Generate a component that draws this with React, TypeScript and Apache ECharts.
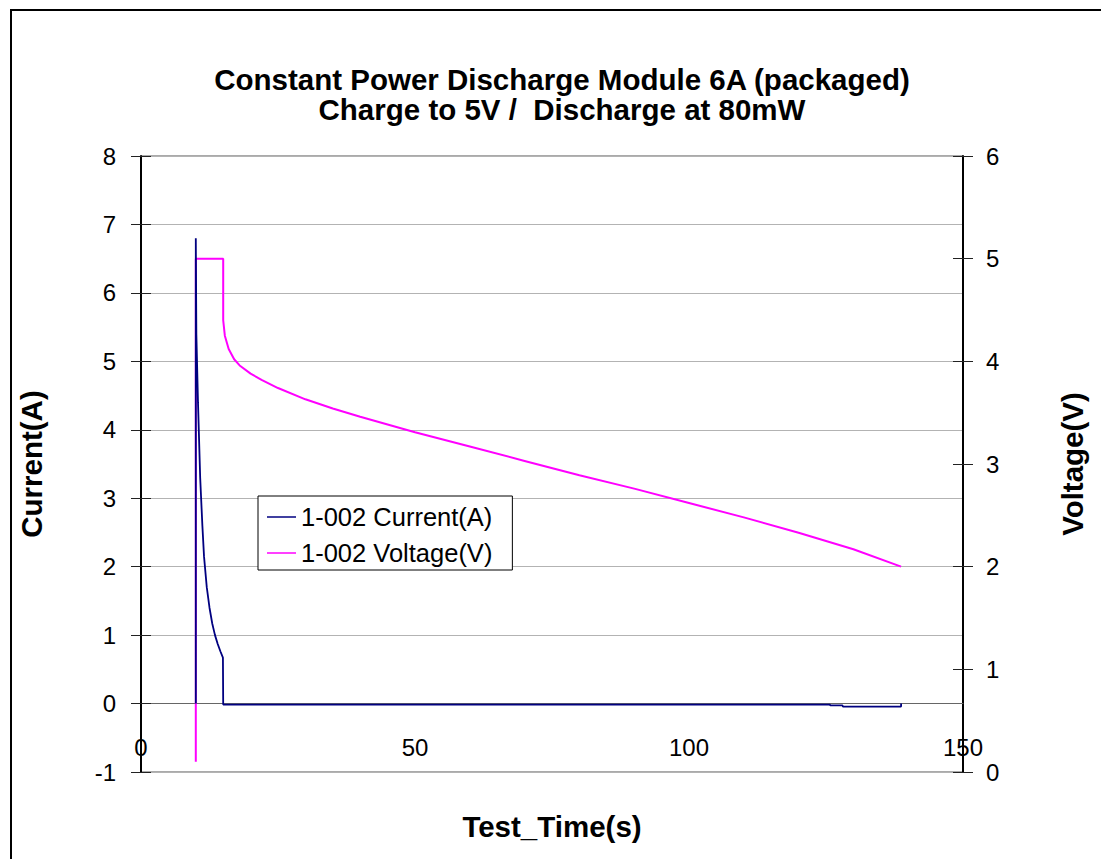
import React, { useEffect, useRef } from "react";
import * as echarts from "echarts";

const titleText = "Constant Power Discharge Module 6A (packaged)\nCharge to 5V /  Discharge at 80mW";
const xAxisName = "Test_Time(s)";
const leftAxisName = "Current(A)";
const rightAxisName = "Voltage(V)";
const currentName = "1-002 Current(A)";
const voltageName = "1-002 Voltage(V)";

const currentTime = [10, 10, 10.1, 10.4, 10.8, 11.2, 11.5, 12.0, 12.5, 13.0, 13.5, 14.0, 14.5, 14.95, 15.0, 60, 125.7, 125.8, 128.0, 128.1, 138.7, 138.7];
const currentValues = [0, 6.8, 5.4, 4.4, 3.3, 2.6, 2.15, 1.7, 1.4, 1.17, 1.0, 0.87, 0.76, 0.67, -0.015, -0.015, -0.015, -0.028, -0.028, -0.044, -0.044, 0];

const voltageTime = [10, 10, 15, 15, 15.3, 16, 17, 18, 20, 22, 25, 30, 35, 40, 50, 60, 70, 80, 90, 100, 110, 120, 130, 138.7];
const voltageValues = [0.1, 5.0, 5.0, 4.4, 4.25, 4.12, 4.02, 3.96, 3.88, 3.82, 3.74, 3.63, 3.54, 3.46, 3.31, 3.17, 3.03, 2.89, 2.76, 2.62, 2.48, 2.33, 2.17, 2.0];

const FONT = "Liberation Sans";

export default function App() {
  const ref = useRef<HTMLDivElement>(null);
  useEffect(() => {
    const chart = echarts.init(ref.current!, null, { renderer: "svg" });
    const currentData = currentTime.map((t, i) => [t, currentValues[i]]);
    const voltageData = voltageTime.map((t, i) => [t, voltageValues[i]]);
    const tickStyle = { color: "#222", width: 1 };
    const nameStyle = { fontFamily: FONT, fontSize: 29.5, fontWeight: "bold", color: "#000" };
    chart.setOption({
      animation: false,
      backgroundColor: "#fff",
      textStyle: { fontFamily: FONT },
      title: {
        text: titleText,
        left: 557,
        top: 59,
        textAlign: "center",
        textStyle: { fontFamily: FONT, fontSize: 29.5, fontWeight: "bold", color: "#000", lineHeight: 30 },
      },
      graphic: [
        {
          type: "rect",
          shape: { x: 11, y: 10, width: 1200, height: 1000 },
          style: { fill: "none", stroke: "#000", lineWidth: 2 },
          silent: true,
        },
      ],
      legend: {
        orient: "vertical",
        left: 258,
        top: 496,
        padding: [8, 20, 4, 9],
        itemGap: 10,
        itemWidth: 29,
        itemHeight: 1.5,
        icon: "rect",
        backgroundColor: "#fff",
        borderColor: "#000",
        borderWidth: 1,
        textStyle: { fontFamily: FONT, fontSize: 25.5, color: "#000", lineHeight: 25 },
        data: [currentName, voltageName],
      },
      grid: {
        left: 141,
        right: 138,
        top: 156,
        bottom: 87,
        outerBoundsMode: "none",
        containLabel: false,
        show: true,
        borderColor: "#555",
        borderWidth: 1,
        backgroundColor: "#fff",
      },
      xAxis: {
        type: "value",
        min: 0,
        max: 150,
        interval: 50,
        name: xAxisName,
        nameLocation: "middle",
        nameGap: 39,
        nameTextStyle: nameStyle,
        axisLine: { show: true, onZero: true, lineStyle: { color: "#666", width: 1 } },
        axisTick: { show: false },
        axisLabel: { fontFamily: FONT, fontSize: 24, color: "#000", margin: -37 },
        splitLine: { show: false },
      },
      yAxis: [
        {
          type: "value",
          position: "left",
          min: -1,
          max: 8,
          interval: 1,
          name: leftAxisName,
          nameLocation: "middle",
          nameGap: 95,
          nameRotate: 90,
          nameTextStyle: nameStyle,
          axisLine: { show: true, onZero: false, lineStyle: { color: "#000", width: 2 } },
          axisTick: { show: true, length: 10, lineStyle: tickStyle },
          axisLabel: { fontFamily: FONT, fontSize: 24, color: "#000", margin: 25 },
          splitLine: { show: true, lineStyle: { color: "#b3b3b3", width: 1 } },
        },
        {
          type: "value",
          position: "right",
          min: 0,
          max: 6,
          interval: 1,
          name: rightAxisName,
          nameLocation: "middle",
          nameGap: 94,
          nameRotate: 90,
          nameTextStyle: nameStyle,
          axisLine: { show: true, onZero: false, lineStyle: { color: "#000", width: 2 } },
          axisTick: { show: true, length: 10, lineStyle: tickStyle },
          axisLabel: { fontFamily: FONT, fontSize: 24, color: "#000", margin: 23 },
          splitLine: { show: false },
        },
        {
          type: "value",
          position: "left",
          min: -1,
          max: 8,
          interval: 1,
          axisLine: { show: false, onZero: false },
          axisTick: { show: true, inside: true, length: 10, lineStyle: tickStyle },
          axisLabel: { show: false },
          splitLine: { show: false },
        },
        {
          type: "value",
          position: "right",
          min: 0,
          max: 6,
          interval: 1,
          axisLine: { show: false, onZero: false },
          axisTick: { show: true, inside: true, length: 10, lineStyle: tickStyle },
          axisLabel: { show: false },
          splitLine: { show: false },
        },
      ],
      series: [
        {
          name: currentName,
          type: "line",
          yAxisIndex: 0,
          data: currentData,
          symbol: "none",
          lineStyle: { color: "#000080", width: 1.8 },
          itemStyle: { color: "#000080" },
          z: 3,
        },
        {
          name: voltageName,
          type: "line",
          yAxisIndex: 1,
          data: voltageData,
          symbol: "none",
          lineStyle: { color: "#ff00ff", width: 2 },
          itemStyle: { color: "#ff00ff" },
          z: 2,
        },
      ],
    });
    return () => chart.dispose();
  }, []);
  return <div ref={ref} style={{ position: "absolute", left: 0, top: 0, width: 1101, height: 859 }} />;
}
